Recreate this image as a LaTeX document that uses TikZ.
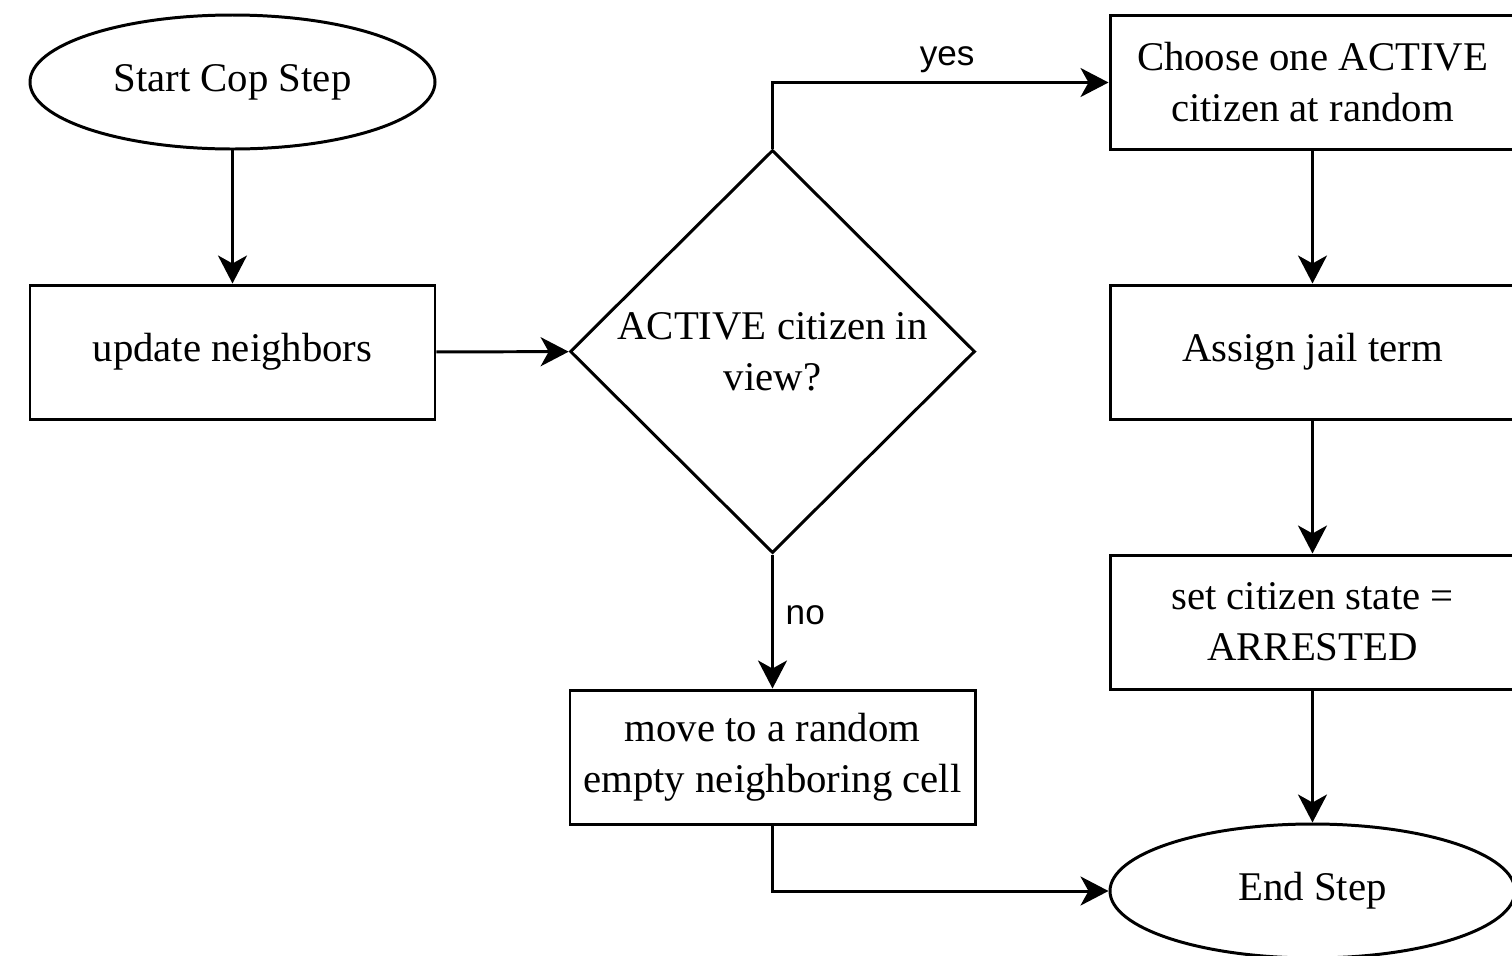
\documentclass[tikz,border=0pt]{standalone}
\usepackage{fontspec}
\setmainfont{Liberation Serif}
\newfontfamily\labelfont{Liberation Sans}
\usetikzlibrary{arrows.meta,shapes.geometric,positioning}
\tikzstyle{terminal} = [ellipse, draw=black, line width=0.85pt, minimum width=4.05cm, minimum height=1.34cm, inner sep=0pt, font=\fontsize{11.6}{14.5}\selectfont]
\tikzstyle{process}  = [rectangle, draw=black, line width=0.85pt, minimum width=4.05cm, minimum height=1.34cm, inner sep=0pt, align=center, font=\fontsize{11.6}{14.5}\selectfont]
\tikzstyle{decision} = [diamond, draw=black, line width=0.85pt, minimum width=4.05cm, minimum height=4.03cm, inner sep=0pt]
\tikzstyle{arrow}    = [line width=0.85pt, -{Stealth[length=0.28cm, width=0.29cm, inset=0.08cm]}]
\tikzstyle{branch}   = [font=\labelfont\fontsize{10}{12}\selectfont]

\begin{document}
\begin{tikzpicture}
		\useasboundingbox (0,0) rectangle (15.12,-9.55);

		% left column
		\node[terminal] (start) at (2.325,-0.82) {Start Cop Step};
		\node[process] (update) at (2.325,-3.52) {update neighbors};

		% middle column
		\node[decision, label={[align=center, font=\fontsize{11.6}{14.5}\selectfont]center:ACTIVE citizen in\\view?}] (check) at (7.725,-3.515) {};
		\node[process] (move) at (7.725,-7.57) {move to a random\\empty neighboring cell};

		% right column
		\node[process] (choose) at (13.125,-0.825) {Choose one ACTIVE\\citizen at random};
		\node[process] (assign) at (13.125,-3.52) {Assign jail term};
		\node[process] (arrest) at (13.125,-6.22) {set citizen state =\\ARRESTED};
		\node[terminal] (finish) at (13.125,-8.91) {End Step};

		\draw[arrow] (start) -- (update);
		\draw[arrow] (update) -- (check);
		\draw[arrow] (check.north) |- (choose.west) node[branch, pos=0.76, above=-1pt] {yes};
		\draw[arrow] (check.south) -- (move.north) node[branch, pos=0.45, right=0pt] {no};
		\draw[arrow] (choose) -- (assign);
		\draw[arrow] (assign) -- (arrest);
		\draw[arrow] (arrest) -- (finish);
		\draw[arrow] (move.south) |- (finish.west);
	\end{tikzpicture}
\end{document}
